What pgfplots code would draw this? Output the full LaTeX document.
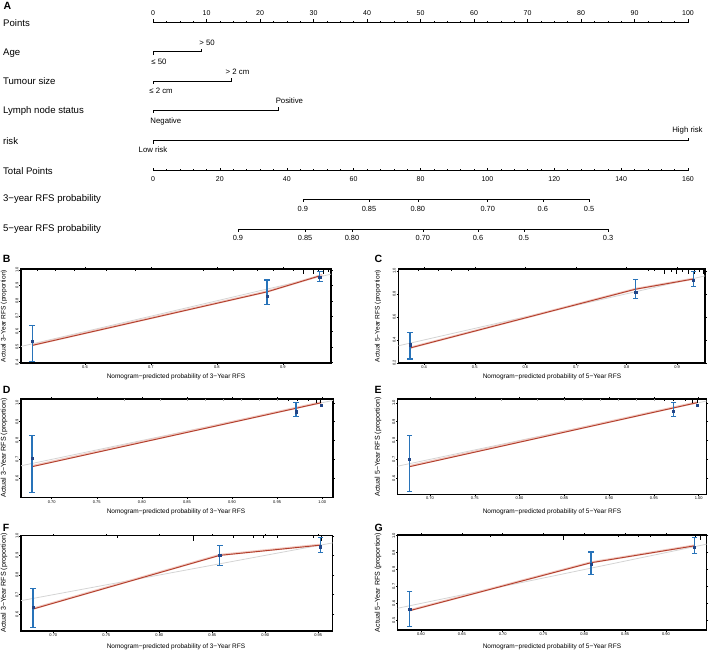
\documentclass[border=0pt]{standalone}
\usepackage{pgfplots}
\pgfplotsset{compat=1.18}
\usepackage{fontspec}
\setmainfont{Liberation Sans}
\definecolor{ebblue}{RGB}{40,115,185}
\definecolor{ptblue}{RGB}{35,70,135}
\definecolor{appred}{RGB}{178,62,44}
\definecolor{halo}{RGB}{240,200,192}
\definecolor{ideal}{RGB}{212,212,212}
\newcommand{\fs}[1]{\fontsize{#1}{#1}\selectfont}
\pgfplotsset{
  calib/.style={scale only axis, anchor=north west,
    axis line style={line width=1.1pt},
    tick align=outside, major tick length=1.6pt,
    every tick/.style={black, line width=0.4pt},
    ticklabel style={font=\fs{4}, inner sep=0.8pt},
    yticklabel style={rotate=90, anchor=south, /pgf/number format/.cd, fixed, fixed zerofill, precision=1},
    /pgf/number format/assume math mode=true,
    unbounded coords=jump,
  },
  ideal line/.style={ideal, line width=0.8pt},
  halo line/.style={halo, line width=2.2pt},
  app line/.style={appred, line width=0.9pt},
  bar/.style={color=ebblue, draw=ebblue, line width=1.4pt},
  cap/.style={color=ebblue, only marks, mark=-, mark size=2.8pt, mark options={solid, draw=ebblue, line width=1.2pt}},
  obs/.style={color=ptblue, only marks, mark=square*, mark size=1.1pt, mark options={draw=ptblue, fill=ptblue}},
  rug/.style={draw=none, mark=none, forget plot, error bars/.cd, y dir=minus, y explicit,
    error bar style={draw=black, line width=0.5pt}, error mark=none},
  fadedrug/.style={draw=none, mark=none, forget plot, error bars/.cd, y dir=minus, y explicit,
    error bar style={draw=black!35, line width=0.5pt}, error mark=none},
}
\begin{document}
\begin{tikzpicture}
\path[use as bounding box] (0,0) rectangle (709pt,-651pt);

% ---------------- Nomogram (A) ----------------
\begin{axis}[at={(153pt,0pt)}, anchor=north west, x=5.35pt, y=1pt,
  xmin=0, xmax=100, ymin=-250, ymax=0, hide axis, clip=false]
  % Points scale
  \addplot[black, line width=0.6pt] coordinates {(0,-22.7) (100,-22.7)};
  \pgfplotsinvokeforeach{0,10,...,100}{
    \draw[line width=0.5pt] (axis cs:#1,-22.7) -- (axis cs:#1,-19.4);
    \node[font=\fs{7}, anchor=base, inner sep=0pt] at (axis cs:#1,-15.6) {#1};
  }
  \pgfplotsinvokeforeach{2.5,7.5,...,97.5}{
    \draw[line width=0.5pt] (axis cs:#1,-22.7) -- (axis cs:#1,-21.2);
  }
  \pgfplotsinvokeforeach{5,15,...,95}{
    \draw[line width=0.5pt] (axis cs:#1,-22.7) -- (axis cs:#1,-21.2);
  }
  % Age
  \addplot[black, line width=0.6pt] coordinates {(0,-51.7) (9.1,-51.7)};
  \draw[line width=0.5pt] (axis cs:0,-51.7) -- (axis cs:0,-54.5);
  \draw[line width=0.5pt] (axis cs:9.1,-51.7) -- (axis cs:9.1,-48.9);
  \node[font=\fs{7.8}, anchor=base, inner sep=0pt] at (axis cs:10.1,-45.6) {> 50};
  \node[font=\fs{7.8}, anchor=base, inner sep=0pt] at (axis cs:1.1,-64.6) {≤ 50};
  % Tumour size
  \addplot[black, line width=0.6pt] coordinates {(0,-81) (14.7,-81)};
  \draw[line width=0.5pt] (axis cs:0,-81) -- (axis cs:0,-83.8);
  \draw[line width=0.5pt] (axis cs:14.7,-81) -- (axis cs:14.7,-78.2);
  \node[font=\fs{7.8}, anchor=base, inner sep=0pt] at (axis cs:15.8,-74.5) {> 2 cm};
  \node[font=\fs{7.8}, anchor=base, inner sep=0pt] at (axis cs:1.5,-93.6) {≤ 2 cm};
  % Lymph node status
  \addplot[black, line width=0.6pt] coordinates {(0,-110) (23.5,-110)};
  \draw[line width=0.5pt] (axis cs:0,-110) -- (axis cs:0,-112.8);
  \draw[line width=0.5pt] (axis cs:23.5,-110) -- (axis cs:23.5,-107.2);
  \node[font=\fs{7.8}, anchor=base, inner sep=0pt] at (axis cs:25.5,-103.6) {Positive};
  \node[font=\fs{7.8}, anchor=base, inner sep=0pt] at (axis cs:2.4,-123.2) {Negative};
  % risk
  \addplot[black, line width=0.6pt] coordinates {(0,-140.7) (100,-140.7)};
  \draw[line width=0.5pt] (axis cs:0,-140.7) -- (axis cs:0,-143.5);
  \draw[line width=0.5pt] (axis cs:100,-140.7) -- (axis cs:100,-137.9);
  \node[font=\fs{7.8}, anchor=base, inner sep=0pt] at (axis cs:99.9,-132.6) {High risk};
  \node[font=\fs{7.8}, anchor=base, inner sep=0pt] at (axis cs:0,-152.6) {Low risk};
  % row labels
  \node[font=\fs{9.6}, anchor=base west, inner sep=0pt] at (axis cs:-28.05,-26.1) {Points};
  \node[font=\fs{9.6}, anchor=base west, inner sep=0pt] at (axis cs:-28.05,-55.1) {Age};
  \node[font=\fs{9.6}, anchor=base west, inner sep=0pt] at (axis cs:-28.05,-84.4) {Tumour size};
  \node[font=\fs{9.6}, anchor=base west, inner sep=0pt] at (axis cs:-28.05,-113.4) {Lymph node status};
  \node[font=\fs{9.6}, anchor=base west, inner sep=0pt] at (axis cs:-28.05,-144.1) {risk};
  \node[font=\fs{9.6}, anchor=base west, inner sep=0pt] at (axis cs:-28.05,-174.1) {Total Points};
  \node[font=\fs{9.6}, anchor=base west, inner sep=0pt] at (axis cs:-28.05,-201.9) {3−year RFS probability};
  \node[font=\fs{9.6}, anchor=base west, inner sep=0pt] at (axis cs:-28.05,-231.9) {5−year RFS probability};
\end{axis}

\begin{axis}[at={(153pt,0pt)}, anchor=north west, x=3.34375pt, y=1pt,
  xmin=0, xmax=160, ymin=-250, ymax=0, hide axis, clip=false]
  % Total points
  \addplot[black, line width=0.6pt] coordinates {(0,-170.7) (160,-170.7)};
  \pgfplotsinvokeforeach{0,20,...,160}{
    \draw[line width=0.5pt] (axis cs:#1,-170.7) -- (axis cs:#1,-167.6);
    \node[font=\fs{7}, anchor=base, inner sep=0pt] at (axis cs:#1,-181.6) {#1};
  }
  \pgfplotsinvokeforeach{4,8,12,16,24,28,32,36,44,48,52,56,64,68,72,76,84,88,92,96,104,108,112,116,124,128,132,136,144,148,152,156}{
    \draw[line width=0.5pt] (axis cs:#1,-170.7) -- (axis cs:#1,-168.8);
  }
  % 3-year RFS probability
  \addplot[black, line width=0.6pt] coordinates {(44.8,-199) (130.4,-199)};
  \pgfplotsinvokeforeach{44.8/0.9,64.6/0.85,79.2/0.80,100.1/0.70,116.6/0.6,130.4/0.5}{
    \pgfplotsextra{\foreach \p/\l in {#1}{
      \draw[line width=0.5pt] (axis cs:\p,-199) -- (axis cs:\p,-202);
      \node[font=\fs{7.4}, anchor=base, inner sep=0pt] at (axis cs:\p,-211.6) {\l};
    }}
  }
  % 5-year RFS probability
  \addplot[black, line width=0.6pt] coordinates {(25.4,-229) (136.1,-229)};
  \pgfplotsinvokeforeach{25.4/0.9,45.5/0.85,59.5/0.80,80.7/0.70,97.2/0.6,110.9/0.5,136.1/0.3}{
    \pgfplotsextra{\foreach \p/\l in {#1}{
      \draw[line width=0.5pt] (axis cs:\p,-229) -- (axis cs:\p,-232);
      \node[font=\fs{7.4}, anchor=base, inner sep=0pt] at (axis cs:\p,-240.6) {\l};
    }}
  }
\end{axis}

% ---------------- Panel B ----------------
\begin{axis}[calib, at={(21pt,-269pt)}, width=310pt, height=94pt,
  xmin=0.503, xmax=0.973, ymin=0.3955, ymax=1.0065,
  xtick={0.6,0.7,0.8,0.9}, ytick={0.4,0.5,0.6,0.7,0.8,0.9,1.0},
  xticklabel style={/pgf/number format/.cd, fixed, fixed zerofill, precision=1}]
  \addplot[ideal line] coordinates {(0.3,0.3) (1.05,1.05)};
  \addplot[halo line] coordinates {(0.520,0.512) (0.876,0.860) (0.960,0.968)};
  \addplot[app line] coordinates {(0.520,0.510) (0.876,0.858) (0.956,0.962)};
  \addplot[rug] coordinates {(0.527,1.0065) -= (0,0.014) (0.555,1.0065) -= (0,0.014) (0.583,1.0065) -= (0,0.014)
    (0.632,1.0065) -= (0,0.014) (0.676,1.0065) -= (0,0.014) (0.779,1.0065) -= (0,0.014) (0.825,1.0065) -= (0,0.014)
    (0.861,1.0065) -= (0,0.014) (0.885,1.0065) -= (0,0.014) (0.916,1.0065) -= (0,0.014) (0.931,1.0065) -= (0,0.033)
    (0.946,1.0065) -= (0,0.033) (0.954,1.0065) -= (0,0.02) (0.961,1.0065) -= (0,0.033) (0.969,1.0065) -= (0,0.02)};
  \addplot[bar] coordinates {(0.520,0.407) (0.520,0.640) (nan,nan) (0.876,0.778) (0.876,0.935) (nan,nan) (0.956,0.924) (0.956,0.990)};
  \addplot[cap] coordinates {(0.520,0.407) (0.520,0.640) (0.876,0.778) (0.876,0.935) (0.956,0.924) (0.956,0.990)};
  \addplot[obs] coordinates {(0.520,0.538) (0.876,0.832) (0.956,0.952)};
\end{axis}

% ---------------- Panel C ----------------
\begin{axis}[calib, at={(398.3pt,-269pt)}, width=306.7pt, height=94pt,
  xmin=0.349, xmax=0.955, ymin=0.2, ymax=1.0147,
  xtick={0.4,0.5,0.6,0.7,0.8,0.9}, ytick={0.2,0.4,0.6,0.8,1.0},
  xticklabel style={/pgf/number format/.cd, fixed, fixed zerofill, precision=1}]
  \addplot[ideal line] coordinates {(0.2,0.2) (1.05,1.05)};
  \addplot[halo line] coordinates {(0.372,0.332) (0.818,0.842) (0.932,0.930)};
  \addplot[app line] coordinates {(0.372,0.330) (0.818,0.840) (0.932,0.928)};
  \addplot[rug] coordinates {(0.388,1.0147) -= (0,0.019) (0.428,1.0147) -= (0,0.019) (0.454,1.0147) -= (0,0.019)
    (0.487,1.0147) -= (0,0.019) (0.842,1.0147) -= (0,0.019) (0.855,1.0147) -= (0,0.019) (0.875,1.0147) -= (0,0.043)
    (0.888,1.0147) -= (0,0.03) (0.898,1.0147) -= (0,0.043) (0.911,1.0147) -= (0,0.03) (0.921,1.0147) -= (0,0.043)
    (0.934,1.0147) -= (0,0.043) (0.944,1.0147) -= (0,0.03) (0.951,1.0147) -= (0,0.043)};
  \addplot[bar] coordinates {(0.372,0.234) (0.372,0.464) (nan,nan) (0.818,0.760) (0.818,0.925) (nan,nan) (0.932,0.866) (0.932,0.990)};
  \addplot[cap] coordinates {(0.372,0.234) (0.372,0.464) (0.818,0.760) (0.818,0.925) (0.932,0.866) (0.932,0.990)};
  \addplot[obs] coordinates {(0.372,0.358) (0.818,0.815) (0.932,0.918)};
\end{axis}

% ---------------- Panel D ----------------
\begin{axis}[calib, at={(21pt,-399pt)}, width=312pt, height=98.7pt,
  xmin=0.666, xmax=1.012, ymin=0.497, ymax=1.0196,
  xtick={0.70,0.75,0.80,0.85,0.90,0.95,1.00}, ytick={0.6,0.7,0.8,0.9,1.0},
  xticklabel style={/pgf/number format/.cd, fixed, fixed zerofill, precision=2}]
  \addplot[ideal line] coordinates {(0.5,0.5) (1.05,1.05)};
  \addplot[halo line] coordinates {(0.678,0.664) (0.999,1.002)};
  \addplot[app line] coordinates {(0.678,0.661) (0.999,1.0)};
  \addplot[fadedrug] coordinates {(0.78,1.0196) -= (0,0.012) (0.82,1.0196) -= (0,0.012) (0.85,1.0196) -= (0,0.012)
    (0.87,1.0196) -= (0,0.012) (0.89,1.0196) -= (0,0.012) (0.91,1.0196) -= (0,0.012) (0.93,1.0196) -= (0,0.012)
    (0.95,1.0196) -= (0,0.012)};
  \addplot[rug] coordinates {(0.962,1.0196) -= (0,0.012) (0.972,1.0196) -= (0,0.012) (0.985,1.0196) -= (0,0.012)
    (0.993,1.0196) -= (0,0.02) (0.998,1.0196) -= (0,0.02)};
  \addplot[bar] coordinates {(0.678,0.525) (0.678,0.828) (nan,nan) (0.971,0.926) (0.971,1.0)};
  \addplot[cap] coordinates {(0.678,0.525) (0.678,0.828) (0.971,0.926) (0.971,1.0)};
  \addplot[obs] coordinates {(0.678,0.705) (0.971,0.952) (0.999,0.988)};
\end{axis}

% ---------------- Panel E ----------------
\begin{axis}[calib, at={(397.7pt,-399pt)}, width=309pt, height=95.3pt,
  xmin=0.664, xmax=1.009, ymin=0.515, ymax=1.0196,
  xtick={0.70,0.75,0.80,0.85,0.90,0.95,1.00}, ytick={0.6,0.7,0.8,0.9,1.0},
  xticklabel style={/pgf/number format/.cd, fixed, fixed zerofill, precision=2}]
  \addplot[ideal line] coordinates {(0.5,0.5) (1.05,1.05)};
  \addplot[halo line] coordinates {(0.677,0.664) (0.998,1.002)};
  \addplot[app line] coordinates {(0.677,0.661) (0.998,1.0)};
  \addplot[fadedrug] coordinates {(0.78,1.0196) -= (0,0.012) (0.82,1.0196) -= (0,0.012) (0.85,1.0196) -= (0,0.012)
    (0.87,1.0196) -= (0,0.012) (0.89,1.0196) -= (0,0.012) (0.91,1.0196) -= (0,0.012) (0.93,1.0196) -= (0,0.012)
    (0.95,1.0196) -= (0,0.012)};
  \addplot[rug] coordinates {(0.962,1.0196) -= (0,0.012) (0.972,1.0196) -= (0,0.012) (0.985,1.0196) -= (0,0.012)
    (0.993,1.0196) -= (0,0.02) (0.998,1.0196) -= (0,0.02)};
  \addplot[bar] coordinates {(0.677,0.530) (0.677,0.828) (nan,nan) (0.972,0.926) (0.972,1.0)};
  \addplot[cap] coordinates {(0.677,0.530) (0.677,0.828) (0.972,0.926) (0.972,1.0)};
  \addplot[obs] coordinates {(0.677,0.700) (0.972,0.956) (0.998,0.988)};
\end{axis}

% ---------------- Panel F ----------------
\begin{axis}[calib, at={(21pt,-535.7pt)}, width=311.7pt, height=95.3pt,
  xmin=0.6695, xmax=0.9636, ymin=0.515, ymax=1.0,
  xtick={0.70,0.75,0.80,0.85,0.90,0.95}, ytick={0.6,0.7,0.8,0.9,1.0},
  xticklabel style={/pgf/number format/.cd, fixed, fixed zerofill, precision=2}]
  \addplot[ideal line] coordinates {(0.5,0.5) (1.05,1.05)};
  \addplot[halo line] coordinates {(0.681,0.629) (0.857,0.902) (0.952,0.954)};
  \addplot[app line] coordinates {(0.681,0.627) (0.857,0.900) (0.952,0.952)};
  \addplot[rug] coordinates {(0.760,1.0) -= (0,0.011) (0.832,1.0) -= (0,0.025) (0.870,1.0) -= (0,0.011)
    (0.889,1.0) -= (0,0.011) (0.898,1.0) -= (0,0.011) (0.911,1.0) -= (0,0.011) (0.945,1.0) -= (0,0.011)
    (0.953,1.0) -= (0,0.025)};
  \addplot[bar] coordinates {(0.681,0.534) (0.681,0.733) (nan,nan) (0.857,0.849) (0.857,0.951) (nan,nan) (0.952,0.913) (0.952,0.990)};
  \addplot[cap] coordinates {(0.681,0.534) (0.681,0.733) (0.857,0.849) (0.857,0.951) (0.952,0.913) (0.952,0.990)};
  \addplot[obs] coordinates {(0.681,0.636) (0.857,0.900) (0.952,0.944)};
\end{axis}

% ---------------- Panel G ----------------
\begin{axis}[calib, at={(397.7pt,-535pt)}, width=309pt, height=95pt,
  xmin=0.5714, xmax=0.950, ymin=0.4427, ymax=1.004,
  xtick={0.60,0.65,0.70,0.75,0.80,0.85,0.90}, ytick={0.5,0.6,0.7,0.8,0.9,1.0},
  xticklabel style={/pgf/number format/.cd, fixed, fixed zerofill, precision=2}]
  \addplot[ideal line] coordinates {(0.4,0.4) (1.05,1.05)};
  \addplot[halo line] coordinates {(0.586,0.559) (0.808,0.842) (0.935,0.942)};
  \addplot[app line] coordinates {(0.586,0.557) (0.808,0.840) (0.935,0.940)};
  \addplot[rug] coordinates {(0.6845,1.004) -= (0,0.013) (0.774,1.004) -= (0,0.03) (0.842,1.004) -= (0,0.013)
    (0.866,1.004) -= (0,0.013) (0.881,1.004) -= (0,0.013) (0.936,1.004) -= (0,0.013) (0.942,1.004) -= (0,0.03)};
  \addplot[bar] coordinates {(0.586,0.462) (0.586,0.669) (nan,nan) (0.808,0.770) (0.808,0.904) (nan,nan) (0.935,0.893) (0.935,0.987)};
  \addplot[cap] coordinates {(0.586,0.462) (0.586,0.669) (0.808,0.770) (0.808,0.904) (0.935,0.893) (0.935,0.987)};
  \addplot[obs] coordinates {(0.586,0.565) (0.808,0.833) (0.935,0.930)};
\end{axis}

% ---------------- Panel letters and labels ----------------
\node[font=\fs{10.5}\bfseries, anchor=base west, inner sep=0pt] at (3.3pt,-9.3pt) {A};
\node[font=\fs{10.5}\bfseries, anchor=base west, inner sep=0pt] at (2.7pt,-262pt) {B};
\node[font=\fs{10.5}\bfseries, anchor=base west, inner sep=0pt] at (374.3pt,-262pt) {C};
\node[font=\fs{10.5}\bfseries, anchor=base west, inner sep=0pt] at (2.7pt,-393.5pt) {D};
\node[font=\fs{10.5}\bfseries, anchor=base west, inner sep=0pt] at (374.3pt,-393.5pt) {E};
\node[font=\fs{10.5}\bfseries, anchor=base west, inner sep=0pt] at (2.7pt,-531.7pt) {F};
\node[font=\fs{10.5}\bfseries, anchor=base west, inner sep=0pt] at (374.3pt,-531.7pt) {G};

\node[font=\fs{6.5}, inner sep=0pt] at (176pt,-377pt) {Nomogram−predicted probability of 3−Year RFS};
\node[font=\fs{6.5}, inner sep=0pt] at (552pt,-377pt) {Nomogram−predicted probability of 5−Year RFS};
\node[font=\fs{6.5}, inner sep=0pt] at (176pt,-511.7pt) {Nomogram−predicted probability of 3−Year RFS};
\node[font=\fs{6.5}, inner sep=0pt] at (552pt,-511.7pt) {Nomogram−predicted probability of 5−Year RFS};
\node[font=\fs{6.5}, inner sep=0pt] at (176pt,-646.5pt) {Nomogram−predicted probability of 3−Year RFS};
\node[font=\fs{6.5}, inner sep=0pt] at (552pt,-646.5pt) {Nomogram−predicted probability of 5−Year RFS};

\node[font=\fs{6.6}, rotate=90, inner sep=0pt] at (4pt,-316pt) {Actual 3−Year RFS (proportion)};
\node[font=\fs{6.6}, rotate=90, inner sep=0pt] at (378pt,-316pt) {Actual 5−Year RFS (proportion)};
\node[font=\fs{7.1}, rotate=90, inner sep=0pt] at (4pt,-448pt) {Actual 3−Year RFS (proportion)};
\node[font=\fs{7.1}, rotate=90, inner sep=0pt] at (378pt,-447pt) {Actual 5−Year RFS (proportion)};
\node[font=\fs{7.1}, rotate=90, inner sep=0pt] at (4pt,-583pt) {Actual 3−Year RFS (proportion)};
\node[font=\fs{7.1}, rotate=90, inner sep=0pt] at (378pt,-582.5pt) {Actual 5−Year RFS (proportion)};
\end{tikzpicture}
\end{document}
